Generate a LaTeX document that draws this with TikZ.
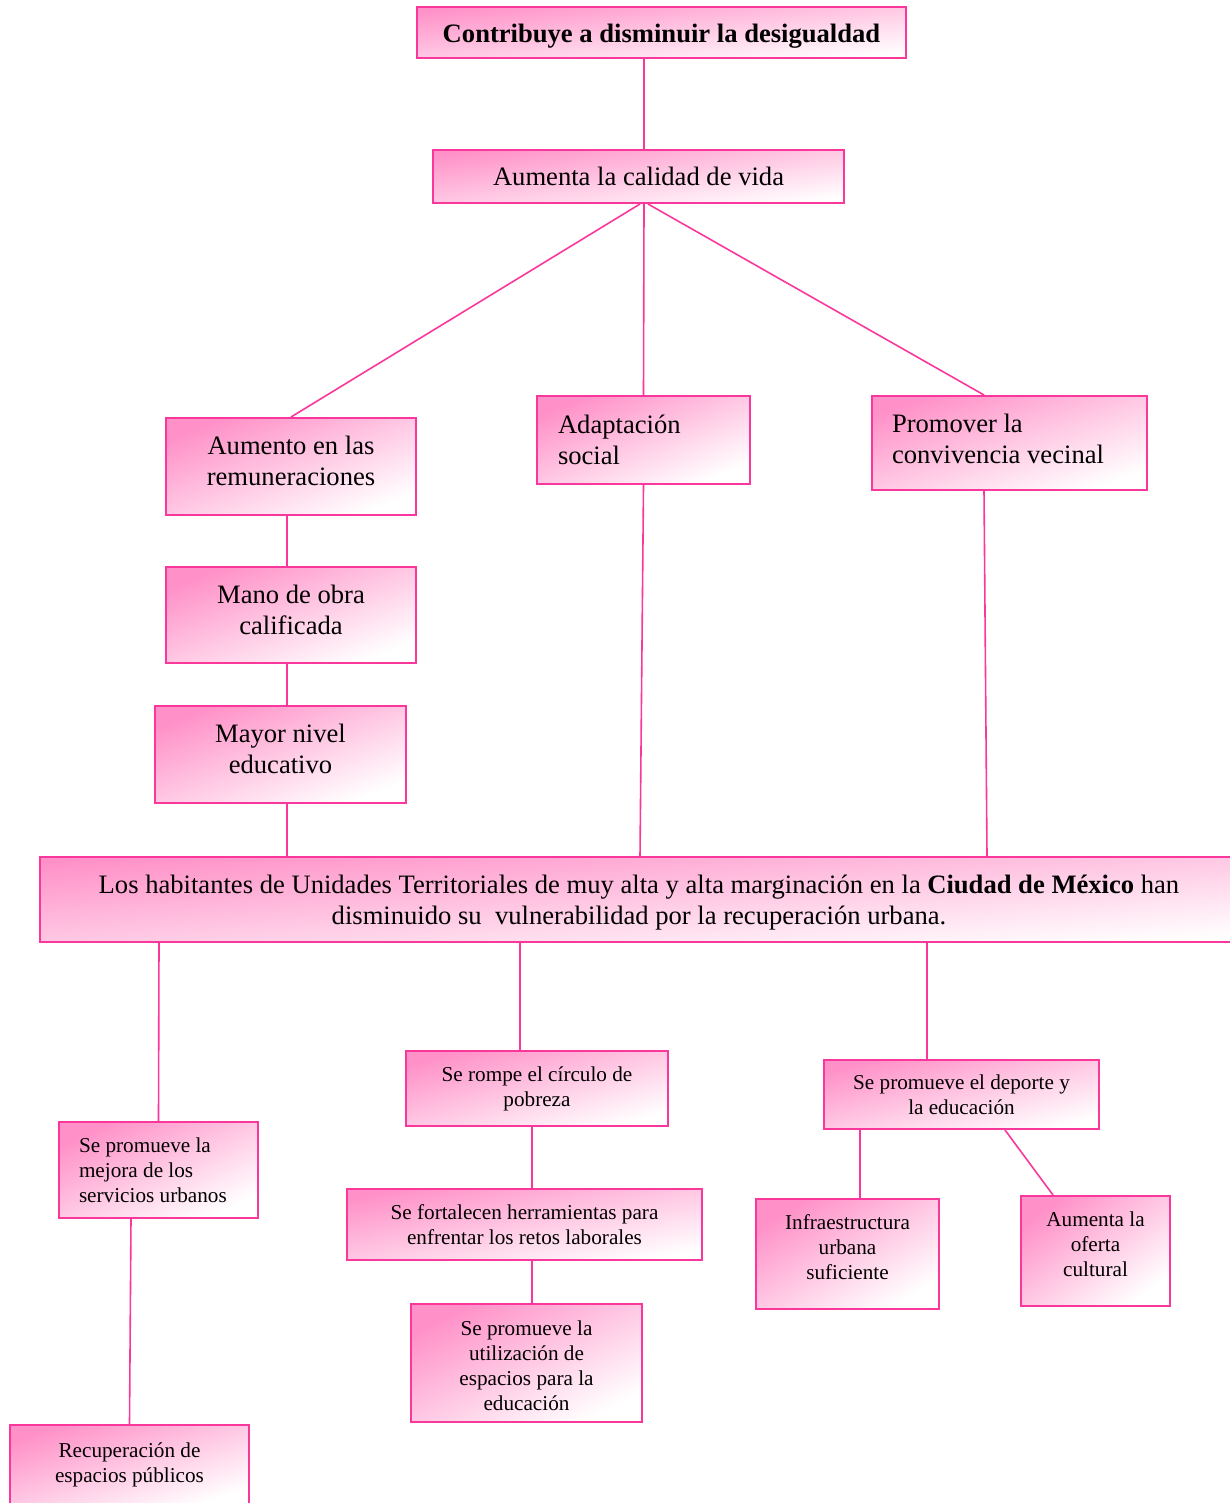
\documentclass[tikz,border=0pt]{standalone}
\usepackage{fontspec}
\setmainfont{Liberation Serif}
\usepackage{tikz}
\usepackage{xcolor}
\usetikzlibrary{shapes}
\usetikzlibrary{calc}
\usetikzlibrary{positioning, fit, arrows.meta}

\definecolor{rosa}{RGB}{250,55,155}
\definecolor{rosaclaro}{RGB}{255,145,200}

% invisible struts to place the text a bit higher or lower in its box
\newcommand{\abajo}[1]{\rule[-#1]{0pt}{#1}}
\newcommand{\arriba}[1]{\rule{0pt}{#1}}

\begin{document}
\begin{tikzpicture}[x=0.5pt, y=-0.5pt,
    caja/.style={draw=rosa, line width=1pt, rectangle, top color=rosaclaro, bottom color=white, inner sep=0pt, align=center},
    % size of a box; the shading runs along its diagonal
    tam/.code 2 args={\pgfmathsetmacro\angulo{atan(#2/#1)}\pgfkeysalso{minimum width=#1pt, minimum height=#2pt, shading angle/.expanded=\angulo}},
    grande/.style={font=\fontsize{13.3}{15.5}\selectfont},
    chica/.style={font=\fontsize{10.6}{12.5}\selectfont},
    linea/.style={draw=rosa, line width=0.8pt}]
                    % Fix the page size
                    \useasboundingbox (0,0) rectangle (1230,1503);
                    \clip (0,0) rectangle (1230,1503);

                    % Upper part of the tree
                    \node[caja, grande, tam={244.5}{25.5}] (disminuir) at (661.5,32.5) {\arriba{13pt}\textbf{Contribuye a disminuir la desigualdad}};
                    \node[caja, grande, tam={205.5}{26.5}] (calidad) at (638.5,176.5) {Aumenta la calidad de vida};
                    \node[caja, grande, tam={125}{48.5}] (remuneraciones) at (291,466.5) {Aumento en las\\remuneraciones\abajo{6pt}};
                    \node[caja, grande, tam={106.5}{44}, inner xsep=10.5pt, text width=85.5pt, align=flush left] (adaptacion) at (643.5,440) {Adaptación\\social};
                    \node[caja, grande, tam={137.5}{47}, inner xsep=10pt, text width=117.5pt, align=flush left] (convivencia) at (1009.5,443) {Promover la\\convivencia vecinal\abajo{4pt}};
                    \node[caja, grande, tam={125}{48}] (manoobra) at (291,615) {Mano de obra\\calificada\abajo{5.5pt}};
                    \node[caja, grande, tam={125.5}{48.5}] (educativo) at (280.5,754.5) {Mayor nivel\\educativo\abajo{6pt}};

                    % Central box
                    \node[caja, grande, tam={599}{42.5}] (habitantes) at (639,899.5) {\arriba{12pt}Los habitantes de Unidades Territoriales de muy alta y alta marginación en la \textbf{Ciudad de México} han\\disminuido su~~vulnerabilidad por la recuperación urbana.};

                    % Lower part of the tree
                    \node[caja, chica, tam={99.5}{48}, inner xsep=10pt, text width=79.5pt, align=flush left] (servicios) at (158.5,1170) {Se promueve la\\mejora de los\\servicios urbanos};
                    \node[caja, chica, tam={119.5}{40}] (espacios) at (129.5,1465) {Recuperación de\\espacios públicos};
                    \node[caja, chica, tam={131}{37.5}] (pobreza) at (537,1088.5) {Se rompe el círculo de\\pobreza};
                    \node[caja, chica, tam={177.5}{35.5}] (herramientas) at (524.5,1224.5) {Se fortalecen herramientas para\\enfrentar los retos laborales};
                    \node[caja, chica, tam={115.5}{59}] (utilizacion) at (526.5,1363) {\arriba{10.5pt}Se promueve la\\utilización de\\espacios para la\\educación};
                    \node[caja, chica, tam={137.5}{34.5}] (deporte) at (961.5,1094.5) {Se promueve el deporte y\\la educación};
                    \node[caja, chica, tam={91.5}{55}] (infraestructura) at (847.5,1254) {Infraestructura\\urbana\\suficiente\abajo{7pt}};
                    \node[caja, chica, tam={74.5}{55}] (oferta) at (1095.5,1251) {Aumenta la\\oferta\\cultural\abajo{7pt}};

                    % Connectors of the upper part
                    \draw[linea] ([xshift=-8.75pt]disminuir.south) -- ([xshift=2.75pt]calidad.north);
                    \draw[linea] ([xshift=0.75pt]calidad.south) -- (remuneraciones.north);
                    \draw[linea] ([xshift=2.75pt]calidad.south) -- (adaptacion.north);
                    \draw[linea] ([xshift=4.75pt]calidad.south) -- ([xshift=-12.75pt]convivencia.north);
                    \draw[linea] ([xshift=-2pt]remuneraciones.south) -- ([xshift=-2pt]manoobra.north);
                    \draw[linea] ([xshift=-2pt]manoobra.south) -- ([xshift=3.25pt]educativo.north);
                    \draw[linea] ([xshift=3.25pt]educativo.south) -- ([xshift=-176pt]habitantes.north);
                    \draw[linea] (adaptacion.south) -- ([xshift=0.5pt]habitantes.north);
                    \draw[linea] ([xshift=-12.75pt]convivencia.south) -- ([xshift=174pt]habitantes.north);

                    % Connectors of the lower part
                    \draw[linea] ([xshift=-240pt]habitantes.south) -- (servicios.north);
                    \draw[linea] ([xshift=-59.5pt]habitantes.south) -- ([xshift=-8.5pt]pobreza.north);
                    \draw[linea] ([xshift=144pt]habitantes.south) -- ([xshift=-17.25pt]deporte.north);
                    \draw[linea] ([xshift=-13.75pt]servicios.south) -- (espacios.north);
                    \draw[linea] ([xshift=-2.5pt]pobreza.south) -- ([xshift=3.75pt]herramientas.north);
                    \draw[linea] ([xshift=3.75pt]herramientas.south) -- ([xshift=2.75pt]utilizacion.north);
                    \draw[linea] ([xshift=-50.75pt]deporte.south) -- ([xshift=6.25pt]infraestructura.north);
                    \draw[linea] ([xshift=21.75pt]deporte.south) -- ([xshift=-21.25pt]oferta.north);

                \end{tikzpicture}
\end{document}
